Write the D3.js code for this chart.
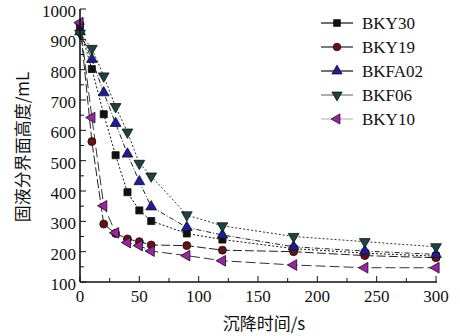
<!DOCTYPE html>
<html>
<head>
<meta charset="utf-8">
<script src="https://cdn.jsdelivr.net/npm/d3@7"></script>
<style>
  body { margin: 0; background: #fff; }
  svg text { fill: #111; }
</style>
</head>
<body>
<div id="chart"></div>
<script>
// data
var time = [0, 10, 20, 30, 40, 50, 60, 90, 120, 180, 240, 300];
var BKY30  = [935, 802, 653, 518, 396, 336, 301, 260, 240, 210, 195, 185];
var BKY19  = [950, 563, 291, 260, 242, 233, 222, 220, 205, 200, 187, 180];
var BKFA02 = [925, 834, 724, 623, 522, 431, 348, 280, 255, 216, 202, 191];
var BKF06  = [920, 870, 779, 678, 594, 491, 449, 321, 285, 250, 233, 216];
var BKY10  = [955, 642, 351, 262, 230, 220, 202, 187, 170, 156, 147, 147];
var seriesNames = ["BKY30", "BKY19", "BKFA02", "BKF06", "BKY10"];
var xTicks = [0, 50, 100, 150, 200, 250, 300];
var yTicks = [100, 200, 300, 400, 500, 600, 700, 800, 900, 1000];

var width = 460, height = 336;
var serif = "'Liberation Serif', 'DejaVu Serif', serif";
var cjk = "'Noto Sans CJK SC', sans-serif";

var styles = {
  BKY30:  { sym: d3.symbolSquare, fill: "#111", dash: "2,2", line: "#111", legendLine: "#111" },
  BKY19:  { sym: d3.symbolCircle, fill: "#6a1010", dash: "9,3", line: "#222", legendLine: "#222" },
  BKFA02: { sym: d3.symbolTriangle, fill: "#1c1ca0", dash: "5,2,1,2", line: "#222", legendLine: "#111" },
  BKF06:  { sym: d3.symbolTriangle, rot: 180, fill: "#1d4444", dash: "2,2", line: "#333", legendLine: "#777" },
  BKY10:  { sym: d3.symbolTriangle, rot: -90, fill: "#a020a8", dash: "10,4", line: "#333", legendLine: "#bbb" }
};
var values = { BKY30: BKY30, BKY19: BKY19, BKFA02: BKFA02, BKF06: BKF06, BKY10: BKY10 };

var x = d3.scaleLinear().domain([0, 300]).range([80, 436]);
var y = d3.scaleLinear().domain([100, 1000]).range([282, 9]);

var svg = d3.select("#chart").append("svg").attr("width", width).attr("height", height);

// lines
var line = d3.line().x(function (d) { return x(d[0]); }).y(function (d) { return y(d[1]); });
seriesNames.forEach(function (name) {
  var s = styles[name];
  var pts = time.map(function (t, i) { return [t, values[name][i]]; });
  svg.append("path").datum(pts).attr("d", line)
    .attr("fill", "none").attr("stroke", s.line).attr("stroke-width", 1)
    .attr("stroke-dasharray", s.dash);
});

// markers
function marker(g, name, cx, cy, size) {
  var s = styles[name];
  g.append("path")
    .attr("d", d3.symbol().type(s.sym).size(size)())
    .attr("transform", "translate(" + cx + "," + cy + ") rotate(" + (s.rot || 0) + ")")
    .attr("fill", s.fill).attr("stroke", "#111").attr("stroke-width", 0.8);
}
seriesNames.forEach(function (name) {
  time.forEach(function (t, i) {
    marker(svg, name, x(t), y(values[name][i]), 50);
  });
});

// axes (ticks inward)
var axisG = svg.append("g");
axisG.append("line").attr("x1", 80).attr("x2", 80).attr("y1", y(1000)).attr("y2", 282)
  .attr("stroke", "#111").attr("stroke-width", 1.6);
axisG.append("line").attr("x1", 80).attr("x2", 437).attr("y1", 282).attr("y2", 282)
  .attr("stroke", "#111").attr("stroke-width", 1.6);

d3.range(0, 301, 25).forEach(function (v) {
  var major = v % 50 === 0;
  axisG.append("line").attr("x1", x(v)).attr("x2", x(v))
    .attr("y1", 282).attr("y2", 282 - (major ? 6 : 4))
    .attr("stroke", "#111").attr("stroke-width", 1);
});
d3.range(100, 1001, 50).forEach(function (v) {
  var major = v % 100 === 0;
  axisG.append("line").attr("x1", 80).attr("x2", 80 + (major ? 6 : 4))
    .attr("y1", y(v)).attr("y2", y(v))
    .attr("stroke", "#111").attr("stroke-width", 1);
});

axisG.selectAll(".xl").data(xTicks).enter().append("text")
  .attr("x", function (d) { return x(d); }).attr("y", 302)
  .attr("text-anchor", "middle").attr("font-family", serif).attr("font-size", 17)
  .text(function (d) { return d; });
axisG.selectAll(".yl").data(yTicks).enter().append("text")
  .attr("x", 76).attr("y", function (d) { return y(d) + 8; })
  .attr("text-anchor", "end").attr("font-family", serif).attr("font-size", 17)
  .text(function (d) { return d; });

// axis titles
svg.append("text").attr("x", 264).attr("y", 330).attr("text-anchor", "middle")
  .attr("font-family", cjk).attr("font-size", 17).text("沉降时间/s");
svg.append("text").attr("transform", "translate(29,147) rotate(-90)").attr("text-anchor", "middle")
  .attr("font-family", cjk).attr("font-size", 17).text("固液分界面高度/mL");

// legend
var legend = svg.append("g");
seriesNames.forEach(function (name, i) {
  var ly = 23 + i * 24;
  legend.append("line").attr("x1", 321).attr("x2", 353).attr("y1", ly).attr("y2", ly)
    .attr("stroke", styles[name].legendLine).attr("stroke-width", 1.2);
  marker(legend, name, 337, ly, 45);
  legend.append("text").attr("x", 362).attr("y", ly + 6)
    .attr("font-family", serif).attr("font-size", 17).text(name);
});
</script>
</body>
</html>
